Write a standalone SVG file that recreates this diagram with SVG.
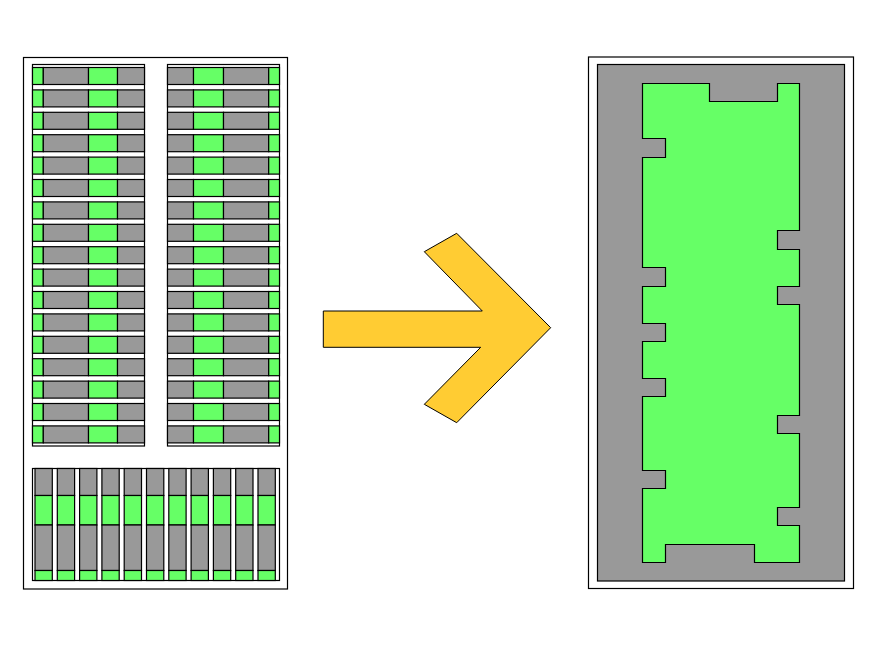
<svg xmlns="http://www.w3.org/2000/svg" xmlns:xlink="http://www.w3.org/1999/xlink" width="876" height="645" viewBox="0 0 876 645">
<style>
.s{stroke:#000;stroke-width:1.2}
.w{fill:#fff}
.g{fill:#999999}
.n{fill:#66FF66}
.a{fill:#FFCC33;stroke:#000;stroke-width:1}
</style>
<defs>
<g id="rowL">
<rect class="s n" x="32.5" y="0" width="10.8" height="17"/>
<rect class="s g" x="43.3" y="0" width="45.2" height="17"/>
<rect class="s n" x="88.5" y="0" width="29" height="17"/>
<rect class="s g" x="117.5" y="0" width="27" height="17"/>
</g>
<g id="rowR">
<rect class="s g" x="167.5" y="0" width="26" height="17"/>
<rect class="s n" x="193.5" y="0" width="30" height="17"/>
<rect class="s g" x="223.5" y="0" width="45.2" height="17"/>
<rect class="s n" x="268.7" y="0" width="10.8" height="17"/>
</g>
<g id="col">
<rect class="s g" x="0" y="468.5" width="17.3" height="27"/>
<rect class="s n" x="0" y="495.5" width="17.3" height="29.5"/>
<rect class="s g" x="0" y="525" width="17.3" height="45.5"/>
<rect class="s n" x="0" y="570.5" width="17.3" height="10"/>
</g>
</defs>
<rect width="876" height="645" fill="#fff"/>
<g id="left-panel">
<rect class="s w" x="23.5" y="57.5" width="264" height="531.5"/>
<g id="block-top-left">
<rect class="s w" x="32.5" y="64.5" width="112" height="381.5"/>
<use xlink:href="#rowL" y="67.5"/><use xlink:href="#rowL" y="89.9"/><use xlink:href="#rowL" y="112.3"/><use xlink:href="#rowL" y="134.7"/>
<use xlink:href="#rowL" y="157.1"/><use xlink:href="#rowL" y="179.5"/><use xlink:href="#rowL" y="201.9"/><use xlink:href="#rowL" y="224.3"/>
<use xlink:href="#rowL" y="246.7"/><use xlink:href="#rowL" y="269.1"/><use xlink:href="#rowL" y="291.5"/><use xlink:href="#rowL" y="313.9"/>
<use xlink:href="#rowL" y="336.3"/><use xlink:href="#rowL" y="358.7"/><use xlink:href="#rowL" y="381.1"/><use xlink:href="#rowL" y="403.5"/>
<use xlink:href="#rowL" y="425.9"/>
</g>
<g id="block-top-right">
<rect class="s w" x="167.5" y="64.5" width="112" height="381.5"/>
<use xlink:href="#rowR" y="67.5"/><use xlink:href="#rowR" y="89.9"/><use xlink:href="#rowR" y="112.3"/><use xlink:href="#rowR" y="134.7"/>
<use xlink:href="#rowR" y="157.1"/><use xlink:href="#rowR" y="179.5"/><use xlink:href="#rowR" y="201.9"/><use xlink:href="#rowR" y="224.3"/>
<use xlink:href="#rowR" y="246.7"/><use xlink:href="#rowR" y="269.1"/><use xlink:href="#rowR" y="291.5"/><use xlink:href="#rowR" y="313.9"/>
<use xlink:href="#rowR" y="336.3"/><use xlink:href="#rowR" y="358.7"/><use xlink:href="#rowR" y="381.1"/><use xlink:href="#rowR" y="403.5"/>
<use xlink:href="#rowR" y="425.9"/>
</g>
<g id="block-bottom">
<rect class="s w" x="32.5" y="468.5" width="247" height="112"/>
<use xlink:href="#col" x="35"/><use xlink:href="#col" x="57.3"/><use xlink:href="#col" x="79.6"/><use xlink:href="#col" x="101.9"/>
<use xlink:href="#col" x="124.2"/><use xlink:href="#col" x="146.5"/><use xlink:href="#col" x="168.8"/><use xlink:href="#col" x="191.1"/>
<use xlink:href="#col" x="213.4"/><use xlink:href="#col" x="235.7"/><use xlink:href="#col" x="258"/>
</g>
</g>
<g id="arrow">
<polygon class="a" points="323.3,311 482.3,311 424.3,251.7 456.7,233.3 550.7,327.7 456.7,422.7 424.3,404.3 480.7,347.3 323.3,347.3"/>
</g>
<g id="right-panel">
<rect class="s w" x="588.5" y="57" width="265" height="531.5"/>
<rect class="s g" x="597.5" y="64.5" width="247" height="516.5"/>
<polygon class="s n" points="642.5,83.5 709.5,83.5 709.5,101.5 777.5,101.5 777.5,83.5 799.5,83.5 799.5,230.5 777.5,230.5 777.5,249.5 799.5,249.5 799.5,286.5 777.5,286.5 777.5,304.5 799.5,304.5 799.5,415.5 777.5,415.5 777.5,433.5 799.5,433.5 799.5,507.5 777.5,507.5 777.5,525.5 799.5,525.5 799.5,562.5 754.5,562.5 754.5,544.5 665.5,544.5 665.5,562.5 642.5,562.5 642.5,488.5 665.5,488.5 665.5,470.5 642.5,470.5 642.5,396.5 665.5,396.5 665.5,378.5 642.5,378.5 642.5,341.5 665.5,341.5 665.5,323.5 642.5,323.5 642.5,286.5 665.5,286.5 665.5,267.5 642.5,267.5 642.5,157.5 665.5,157.5 665.5,138.5 642.5,138.5"/>
</g>
</svg>
